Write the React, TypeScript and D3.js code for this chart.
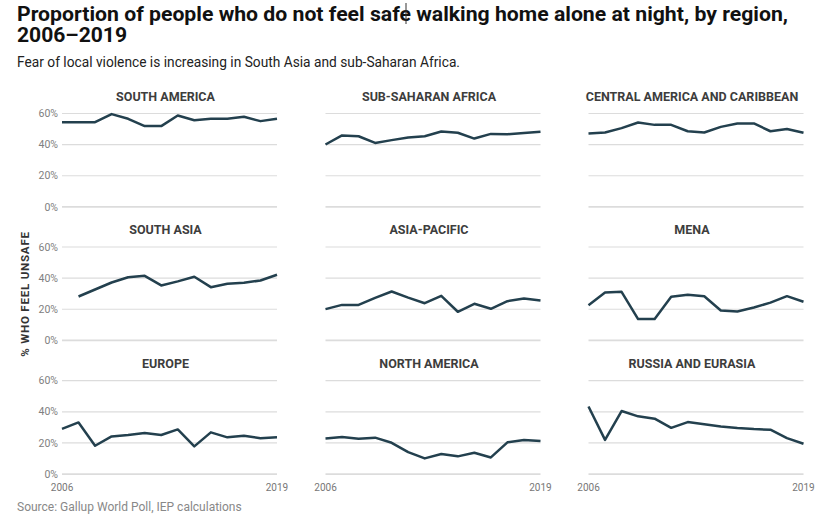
import React from "react";
import * as d3 from "d3";

const years = [2006, 2007, 2008, 2009, 2010, 2011, 2012, 2013, 2014, 2015, 2016, 2017, 2018, 2019];
const regions = [
  "SOUTH AMERICA", "SUB-SAHARAN AFRICA", "CENTRAL AMERICA AND CARIBBEAN",
  "SOUTH ASIA", "ASIA-PACIFIC", "MENA",
  "EUROPE", "NORTH AMERICA", "RUSSIA AND EURASIA",
];
const southAmerica = [54.4, 54.4, 54.4, 59.6, 56.6, 51.9, 51.9, 58.7, 55.7, 56.6, 56.6, 57.9, 55.1, 56.6];
const subSaharanAfrica = [40.1, 45.9, 45.4, 41.1, 42.9, 44.6, 45.4, 48.4, 47.6, 43.9, 46.9, 46.7, 47.4, 48.2];
const centralAmerica = [47.1, 47.8, 50.6, 54.2, 52.7, 52.7, 48.6, 47.8, 51.4, 53.6, 53.6, 48.6, 50.1, 47.6];
const southAsia = [null, 28.2, 32.7, 37.2, 40.6, 41.5, 35.3, 37.9, 40.9, 34.2, 36.4, 37.0, 38.5, 42.2];
const asiaPacific = [20.1, 22.8, 22.8, 27.3, 31.4, 27.5, 23.9, 28.6, 18.4, 23.5, 20.3, 25.2, 26.9, 25.6];
const mena = [22.6, 30.7, 31.2, 13.7, 13.7, 28.0, 29.3, 28.4, 19.2, 18.6, 21.1, 24.3, 28.4, 24.8];
const europe = [29.1, 33.2, 18.2, 24.2, 25.1, 26.4, 25.1, 28.7, 17.8, 26.8, 23.6, 24.6, 23.1, 23.6];
const northAmerica = [22.9, 23.8, 22.7, 23.4, 20.1, 14.1, 10.1, 12.9, 11.4, 13.7, 10.7, 20.4, 21.9, 21.2];
const russiaEurasia = [43.4, 22.0, 40.5, 37.1, 35.6, 29.7, 33.4, 32.0, 30.6, 29.6, 28.9, 28.5, 23.1, 19.5];
const seriesList = [southAmerica, subSaharanAfrica, centralAmerica, southAsia, asiaPacific, mena, europe, northAmerica, russiaEurasia];
const yTicks = [0, 20, 40, 60];

const W = 827;
const H = 516;
const colX = [62, 325.5, 588.5];
const rowY = [113.5, 247, 380.7];
const plotW = 215;
const plotH = 93.4;
const lineColor = "#23404e";
const gridColor = "#dcdcdc";
const sans = "Roboto, 'Liberation Sans', Arial, sans-serif";

export default function App() {
  const x = d3.scaleLinear().domain([2006, 2019]).range([0, plotW]);
  const y = d3.scaleLinear().domain([0, 60]).range([plotH, 0]);
  const line = d3
    .line<number | null>()
    .defined((d) => d != null)
    .x((_, i) => x(years[i]))
    .y((d) => y(d as number));

  return (
    <svg width={W} height={H} style={{ position: "absolute", left: 0, top: 0, background: "#fff" }}>
      <text x={17} y={21} fontFamily={sans} fontWeight={700} fontSize={20} fill="#111"
        textLength={771} lengthAdjust="spacingAndGlyphs">
        Proportion of people who do not feel safe walking home alone at night, by region,
      </text>
      <text x={17} y={42} fontFamily={sans} fontWeight={700} fontSize={20} fill="#111"
        textLength={110} lengthAdjust="spacingAndGlyphs">
        2006–2019
      </text>
      <line x1={406} x2={406} y1={3} y2={24} stroke="#333" strokeWidth={1} />
      <text x={17} y={67} fontFamily={sans} fontSize={14} fill="#222"
        textLength={443} lengthAdjust="spacingAndGlyphs">
        Fear of local violence is increasing in South Asia and sub-Saharan Africa.
      </text>

      <text
        transform={`translate(29,${rowY[1] + 47}) rotate(-90)`}
        textAnchor="middle"
        fontFamily={sans}
        fontWeight={700}
        fontSize={11.5}
        letterSpacing={0.8}
        fill="#333"
      >
        % WHO FEEL UNSAFE
      </text>

      {seriesList.map((series, k) => {
        const col = k % 3;
        const row = Math.floor(k / 3);
        const tx = colX[col];
        const ty = rowY[row];
        return (
          <g key={regions[k]} transform={`translate(${tx},${ty})`}>
            <text
              x={plotW / 2 - 4}
              y={-13}
              textAnchor="middle"
              fontFamily={sans}
              fontWeight={700}
              fontSize={12.5}
              fill="#3d3d3d"
            >
              {regions[k]}
            </text>
            {yTicks.map((t) => (
              <line
                key={t}
                x1={0}
                x2={plotW}
                y1={y(t)}
                y2={y(t)}
                stroke={gridColor}
                strokeWidth={t === 0 ? 1.6 : 1.2}
              />
            ))}
            {col === 0 &&
              yTicks.map((t) => (
                <text
                  key={t}
                  x={-4}
                  y={y(t)}
                  dy="0.35em"
                  textAnchor="end"
                  fontFamily={sans}
                  fontSize={10.5}
                  fill="#808080"
                >
                  {t}%
                </text>
              ))}
            <path d={line(series) || ""} fill="none" stroke={lineColor} strokeWidth={2.5} strokeLinejoin="round" />
            {row === 2 && (
              <g fontFamily={sans} fontSize={10} fill="#777" textAnchor="middle">
                <text x={x(years[0])} y={plotH + 17}>{years[0]}</text>
                <text x={x(years[years.length - 1])} y={plotH + 17}>{years[years.length - 1]}</text>
              </g>
            )}
          </g>
        );
      })}

      <text x={17} y={511} fontFamily={sans} fontSize={12} fill="#888">
        Source: Gallup World Poll, IEP calculations
      </text>
    </svg>
  );
}
